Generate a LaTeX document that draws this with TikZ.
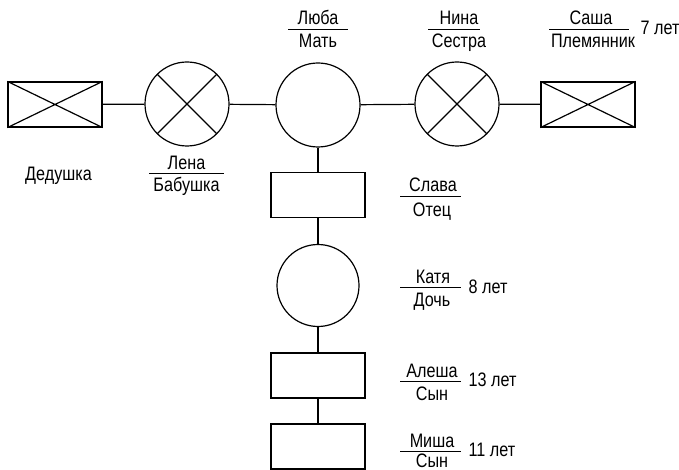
\documentclass[tikz,border=0pt]{standalone}
\usepackage{fontspec}
\setmainfont{Liberation Sans}[FakeStretch=0.83]
\begin{document}
\begin{tikzpicture}[x=1pt,y=-1pt,
  line width=1.2pt,
  man/.style={draw, rectangle, minimum width=94pt, minimum height=45pt, inner sep=0pt},
  woman/.style={draw, circle, minimum size=84pt, inner sep=0pt},
  txt/.style={font=\fontsize{19.5}{21}\selectfont, inner sep=0pt, anchor=base},
  rule/.style={line width=0.9pt}]
\useasboundingbox (0,0) rectangle (679,470);

% generation row
\node[man]   (ded)   at (55,104.5) {};
\node[woman] (lena)  at (187,104) {};
\node[woman] (luba)  at (318,105) {};
\node[woman] (nina)  at (457,104) {};
\node[man]   (sasha) at (588,104.5) {};

% descendants column
\node[man]   (slava)  at (318,195) {};
\node[woman, minimum size=82pt] (katya) at (318,285.5) {};
\node[man]   (alesha) at (318,375.5) {};
\node[man]   (misha)  at (318,446.5) {};

% crossed-out marks
\foreach \n in {ded,lena,nina,sasha}
  \draw (\n.north west) -- (\n.south east) (\n.south west) -- (\n.north east);

% connectors
\draw (ded) -- (lena) -- (luba) -- (nina) -- (sasha);
\draw (luba) -- (slava) -- (katya) -- (alesha) -- (misha);

% labels
\node[txt] (tded) at (58.5,181) {Дедушка};

\draw[rule] (149,173) -- (224,173);
\node[txt] (tlena1) at (186.5,170) {Лена};
\node[txt] (tlena2) at (186.5,192) {Бабушка};

\draw[rule] (288,29) -- (348,29);
\node[txt] (tluba1) at (318,25) {Люба};
\node[txt] (tluba2) at (318,48) {Мать};

\draw[rule] (428,29) -- (480,29);
\node[txt] (tnina1) at (459,25) {Нина};
\node[txt] (tnina2) at (459,48) {Сестра};

\draw[rule] (549,29) -- (629,29);
\node[txt] (tsasha1) at (591,25) {Саша};
\node[txt] (tsasha2) at (593,48) {Племянник};
\node[txt, anchor=base west] (tsasha3) at (640,35) {7 лет};

\draw[rule] (400,196) -- (461,196);
\node[txt] (tslava1) at (433,192) {Слава};
\node[txt] (tslava2) at (432,216) {Отец};

\draw[rule] (400,287) -- (461,287);
\node[txt] (tkatya1) at (433,283) {Катя};
\node[txt] (tkatya2) at (432,306) {Дочь};
\node[txt, anchor=base west] (tkatya3) at (468,293) {8 лет};

\draw[rule] (400,381) -- (461,381);
\node[txt] (talesha1) at (432,377) {Алеша};
\node[txt] (talesha2) at (432,400) {Сын};
\node[txt, anchor=base west] (talesha3) at (468,386) {13 лет};

\draw[rule] (400,451) -- (461,451);
\node[txt] (tmisha1) at (432,447.5) {Миша};
\node[txt] (tmisha2) at (432,467) {Сын};
\node[txt, anchor=base west] (tmisha3) at (468,456) {11 лет};
\end{tikzpicture}
\end{document}
